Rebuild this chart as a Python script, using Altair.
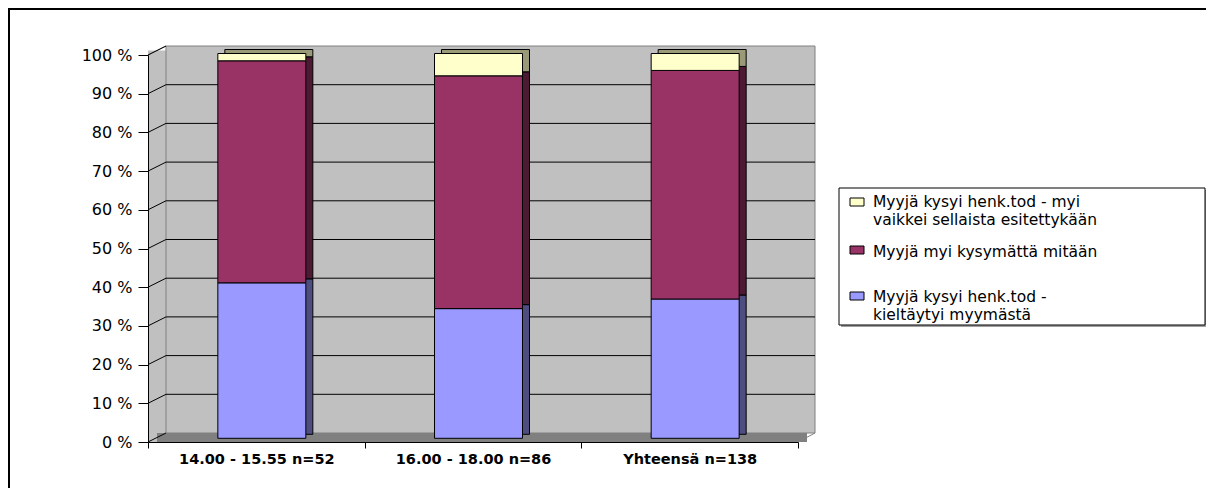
import altair as alt
import pandas as pd

# ---------------- data ----------------
categories = ["14.00 - 15.55 n=52", "16.00 - 18.00 n=86", "Yhteensä n=138"]
series_names = [
    "Myyjä kysyi henk.tod - kieltäytyi myymästä",
    "Myyjä myi kysymättä mitään",
    "Myyjä kysyi henk.tod - myi vaikkei sellaista esitettykään",
]
refused = [40.4, 33.7, 36.2]              # blue, bottom
sold_without_asking = [57.7, 60.5, 59.4]  # maroon, middle
sold_without_id = [1.9, 5.8, 4.4]         # yellow, top
y_ticks = [0, 10, 20, 30, 40, 50, 60, 70, 80, 90, 100]

# legend (top-to-bottom as in the reference) – lines of each entry
legend_order = [2, 1, 0]
legend_lines = {
    0: ["Myyjä kysyi henk.tod -", "kieltäytyi myymästä"],
    1: ["Myyjä myi kysymättä mitään"],
    2: ["Myyjä kysyi henk.tod - myi", "vaikkei sellaista esitettykään"],
}

# ---------------- styles ----------------
front_colors = ["#9999FF", "#993366", "#FFFFCC"]
side_colors = ["#4D4D80", "#4D1A33", "#9A9A78"]
WALL = "#C0C0C0"
FLOOR = "#808080"
EDGE = "#808080"
FONT = "DejaVu Sans"

W, H = 650, 387          # front plane of the plot
DX, DY = 18, 9           # depth of the 3-D walls
BAR_W = 88
BAR_DX = 5.5
SIDE_DX, SIDE_DY = 7, 4

values = [refused, sold_without_asking, sold_without_id]
rows = []
for si, (name, vals) in enumerate(zip(series_names, values)):
    for ci, cat in enumerate(categories):
        rows.append({"category": cat, "series": name, "value": vals[ci], "idx": si})
df = pd.DataFrame(rows)
ticks_df = pd.DataFrame({"v": y_ticks})
inner_ticks_df = pd.DataFrame({"v": y_ticks[1:-1]})
one = pd.DataFrame({"d": [0]})

front_y = alt.Scale(domain=[0, 100], nice=False, zero=True)
bar_y = alt.Scale(domain=[0, 100], nice=False, range=[383.3, -1.5])
x_scale = alt.Scale(domain=categories, paddingInner=0, paddingOuter=0)
x_axis = alt.Axis(title=None, labelAngle=0, labelFont=FONT, labelFontWeight="bold",
                  labelFontSize=14.5, labelColor="black", domainColor="black",
                  tickColor="black", tickSize=6, tickBand="extent", labelPadding=4,
                  labelLimit=400, grid=False, zindex=1)

# ---------------- frame and walls ----------------
frame = alt.Chart(one).mark_rect(filled=False, stroke="black", strokeWidth=2).encode(
    x=alt.value(-139), x2=alt.value(1300), y=alt.value(-46), y2=alt.value(800)
)
left_wall = alt.Chart(one).mark_rect(fill=WALL).encode(
    x=alt.value(0), x2=alt.value(DX), y=alt.value(-DY / 2), y2=alt.value(H)
)
back_wall = alt.Chart(one).mark_rect(fill=WALL, stroke=EDGE, strokeWidth=1).encode(
    x=alt.value(DX), x2=alt.value(W + DX - 1), y=alt.value(-DY), y2=alt.value(H - DY)
)
floor = alt.Chart(one).mark_rect(fill=FLOOR).encode(
    x=alt.value(DX / 2), x2=alt.value(W + DX / 2), y=alt.value(H - DY), y2=alt.value(H)
)
floor_right = alt.Chart(one).mark_rule(stroke=EDGE, strokeWidth=1).encode(
    x=alt.value(W), x2=alt.value(W + DX - 1), y=alt.value(H), y2=alt.value(H - DY)
)
top_slant = alt.Chart(one).mark_rule(stroke=EDGE, strokeWidth=1).encode(
    x=alt.value(0), x2=alt.value(DX), y=alt.value(0), y2=alt.value(-DY)
)

# back-wall gridlines
grid = alt.Chart(inner_ticks_df).mark_rule(color="black", strokeWidth=1, yOffset=-DY).encode(
    x=alt.value(DX), x2=alt.value(W + DX - 1),
    y=alt.Y("v:Q", scale=front_y, axis=None),
)
# diagonal lines on the left wall, also carrying the front y axis
diag = alt.Chart(ticks_df).mark_rule(color="black", strokeWidth=1, y2Offset=-DY).encode(
    x=alt.value(0), x2=alt.value(DX),
    y=alt.Y("v:Q", scale=front_y,
            axis=alt.Axis(values=y_ticks, labelExpr="datum.value + ' %'", title=None,
                          grid=False, tickSize=10, labelPadding=6, labelFont=FONT,
                          labelFontSize=16, labelColor="black", domainColor="black",
                          tickColor="black", domainWidth=1, tickWidth=1, zindex=1)),
    y2=alt.Y2("v:Q"),
)

# ---------------- bars ----------------
bars_side = alt.Chart(df).mark_bar(
    size=BAR_W, xOffset=BAR_DX + SIDE_DX, yOffset=-SIDE_DY, y2Offset=-SIDE_DY,
    stroke="black", strokeWidth=1
).encode(
    x=alt.X("category:N", sort=categories, scale=x_scale, axis=x_axis),
    y=alt.Y("value:Q", stack="zero", scale=bar_y, axis=None),
    color=alt.Color("series:N", scale=alt.Scale(domain=series_names, range=side_colors), legend=None),
    order=alt.Order("idx:Q"),
)
bars_front = alt.Chart(df).mark_bar(
    size=BAR_W, xOffset=BAR_DX, stroke="black", strokeWidth=1
).encode(
    x=alt.X("category:N", sort=categories, scale=x_scale, axis=x_axis),
    y=alt.Y("value:Q", stack="zero", scale=bar_y, axis=None),
    color=alt.Color("series:N", scale=alt.Scale(domain=series_names, range=front_colors), legend=None),
    order=alt.Order("idx:Q"),
)

# ---------------- legend ----------------
LX0, LX1, LY0, LY1 = 691, 1057, 133, 270
legend_layers = [
    alt.Chart(one).mark_rect(fill="#A0A0A0").encode(
        x=alt.value(LX0 + 2), x2=alt.value(LX1 + 2), y=alt.value(LY0 + 2), y2=alt.value(LY1 + 2)),
    alt.Chart(one).mark_rect(fill="white", stroke="black", strokeWidth=1).encode(
        x=alt.value(LX0), x2=alt.value(LX1), y=alt.value(LY0), y2=alt.value(LY1)),
]
sym_tops = [143, 191, 237]
text_base = [152, 202, 247]
LINE_GAP = 18
for row, si in enumerate(legend_order):
    legend_layers.append(
        alt.Chart(one).mark_rect(fill=front_colors[si], stroke="black", strokeWidth=1).encode(
            x=alt.value(702), x2=alt.value(716),
            y=alt.value(sym_tops[row]), y2=alt.value(sym_tops[row] + 8))
    )
    for li, line in enumerate(legend_lines[si]):
        legend_layers.append(
            alt.Chart(one).mark_text(
                text=line, align="left", baseline="alphabetic",
                font=FONT, fontSize=15.5, color="black"
            ).encode(x=alt.value(725), y=alt.value(text_base[row] + li * LINE_GAP))
        )

chart = alt.layer(
    frame, left_wall, back_wall, floor, floor_right, top_slant, grid, diag,
    bars_side, bars_front, *legend_layers
).resolve_scale(
    y="independent", color="independent"
).properties(
    width=W, height=H,
    autosize=alt.AutoSizeParams(type="none"),
    padding={"left": 140, "top": 47, "right": 408, "bottom": 46},
    background="white",
).configure_view(stroke=None)

chart.save("out.html", embed_options={"renderer": "svg", "actions": False})
